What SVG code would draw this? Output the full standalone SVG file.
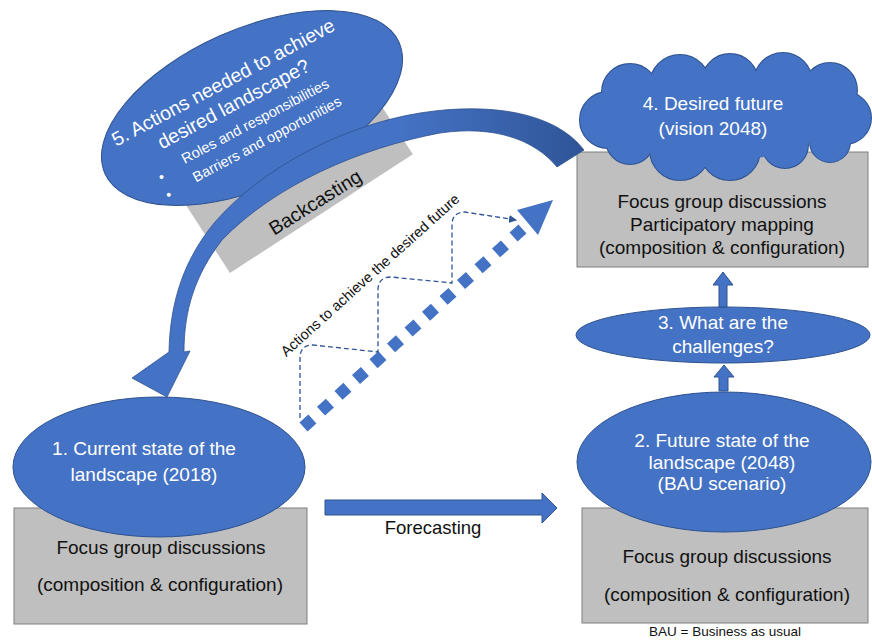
<svg xmlns="http://www.w3.org/2000/svg" width="872" height="640" viewBox="0 0 872 640">
<defs>
<style>
.t{font-family:"Liberation Sans",Arial,sans-serif;}
.w{fill:#ffffff;}
.k{fill:#111111;}
.ell{fill:#4472C4;stroke:#2F528F;stroke-width:1;}
.box{fill:#BFBFBF;stroke:#7F7F7F;stroke-width:1;}
.blue{fill:#4472C4;stroke:#2F528F;stroke-width:1;}
.m{text-anchor:middle;}
</style>
<linearGradient id="bg" x1="0" y1="0" x2="1" y2="0">
<stop offset="0" stop-color="#4472C4"/>
<stop offset="0.6" stop-color="#4472C4"/>
<stop offset="1" stop-color="#2F5597"/>
</linearGradient>
<marker id="ah" markerWidth="8" markerHeight="8" refX="7" refY="4" orient="auto" markerUnits="userSpaceOnUse">
<path d="M0,0 L8,4 L0,8 Z" fill="#2F5597"/>
</marker>
</defs>
<rect width="872" height="640" fill="#ffffff"/>

<g id="node5">
<rect x="0" y="-81" width="218" height="81" fill="#BFBFBF" transform="translate(230,273) rotate(-33)"/>
<text class="t k m" font-size="19.5" transform="translate(315,202) rotate(-32)" x="0" y="7">Backcasting</text>
<ellipse class="ell" cx="252" cy="108" rx="161" ry="79" transform="rotate(-24 252 108)"/>
<g transform="translate(250,105) rotate(-28)" class="t w">
<text class="m" x="-13" y="-26" font-size="19.5">5. Actions needed to achieve</text>
<text class="m" x="-14" y="-2" font-size="19.5">desired landscape?</text>
<text class="m" x="-3" y="21.5" font-size="14.5">Roles and responsibilities</text>
<text class="m" x="-1" y="43" font-size="14.5">Barriers and opportunities</text>
<text class="m" x="-112" y="27" font-size="14.5">•</text>
<text class="m" x="-114" y="46" font-size="14.5">•</text>
</g>
</g>

<g id="node4">
<rect class="box" x="577" y="152" width="291" height="115"/>
<g stroke="#2F528F" stroke-width="2" fill="#2F528F">
<circle cx="608" cy="120" r="28"/><circle cx="630" cy="92" r="28"/><circle cx="680" cy="85" r="30"/>
<circle cx="730" cy="82" r="28"/><circle cx="783" cy="82" r="29"/><circle cx="830" cy="90" r="27"/>
<circle cx="845" cy="118" r="26"/><circle cx="830" cy="142" r="20"/><circle cx="785" cy="145" r="23"/>
<circle cx="730" cy="150" r="30"/><circle cx="680" cy="150" r="30"/><circle cx="630" cy="140" r="24"/>
</g>
<g fill="#4472C4">
<circle cx="608" cy="120" r="28"/><circle cx="630" cy="92" r="28"/><circle cx="680" cy="85" r="30"/>
<circle cx="730" cy="82" r="28"/><circle cx="783" cy="82" r="29"/><circle cx="830" cy="90" r="27"/>
<circle cx="845" cy="118" r="26"/><circle cx="830" cy="142" r="20"/><circle cx="785" cy="145" r="23"/>
<circle cx="730" cy="150" r="30"/><circle cx="680" cy="150" r="30"/><circle cx="630" cy="140" r="24"/>
<ellipse cx="725" cy="118" rx="105" ry="42"/>
</g>
<text class="t w m" x="713" y="110" font-size="19">4. Desired future</text>
<text class="t w m" x="713" y="135" font-size="19">(vision 2048)</text>
<text class="t k m" x="722" y="208" font-size="19">Focus group discussions</text>
<text class="t k m" x="722" y="231" font-size="19">Participatory mapping</text>
<text class="t k m" x="722" y="254" font-size="19">(composition &amp; configuration)</text>
</g>

<g id="node3">
<ellipse class="ell" cx="723" cy="335" rx="147" ry="28"/>
<text class="t w m" x="723" y="329" font-size="19">3. What are the</text>
<text class="t w m" x="723" y="353" font-size="19">challenges?</text>
</g>

<g id="node2">
<rect class="box" x="582" y="508" width="286" height="115"/>
<ellipse class="ell" cx="724" cy="462" rx="147" ry="70"/>
<text class="t w m" x="722" y="447" font-size="19">2. Future state of the</text>
<text class="t w m" x="722" y="469" font-size="19">landscape (2048)</text>
<text class="t w m" x="722" y="490" font-size="19">(BAU scenario)</text>
<text class="t k m" x="727" y="563" font-size="19">Focus group discussions</text>
<text class="t k m" x="727" y="601" font-size="19">(composition &amp; configuration)</text>
</g>

<g id="node1">
<rect class="box" x="14" y="508" width="293" height="116"/>
<ellipse class="ell" cx="159" cy="467" rx="146" ry="70"/>
<text class="t w m" x="144" y="455" font-size="19">1. Current state of the</text>
<text class="t w m" x="144" y="481" font-size="19">landscape (2018)</text>
<text class="t k m" x="161" y="554" font-size="19">Focus group discussions</text>
<text class="t k m" x="160" y="591" font-size="19">(composition &amp; configuration)</text>
</g>

<g id="connectors">
<path d="M584,150 C555,112 490,102 420,113 C340,126 260,170 215,222 C185,258 170,300 169,352 L132,378 L167,397 L190,351 L184,352 C184,310 195,275 222,240 C275,185 360,148 440,133 C495,125 535,140 557,167 Z" fill="url(#bg)" stroke="#2F528F" stroke-width="0.8"/>
<path d="M303.5,427 L522.5,229" stroke="#4472C4" stroke-width="12" stroke-dasharray="12 11.6" fill="none"/>
<polygon points="517,210 553,200 538,235" fill="#4472C4"/>
<path d="M300,418 L300,358 Q300,345 313,345 L378,352 L378,290 Q378,277 391,277 L452,283 L452,225 Q452,212 465,212 L516,220" fill="none" stroke="#2F5597" stroke-width="1.3" stroke-dasharray="5 3" marker-end="url(#ah)"/>
<text class="t k m" font-size="14.5" transform="translate(370,275) rotate(-42)" x="0" y="5">Actions to achieve the desired future</text>
<polygon class="blue" points="325,500 542,500 542,493 557,508 542,523 542,515 325,515"/>
<text class="t k m" x="433" y="534" font-size="18.5">Forecasting</text>
<polygon class="blue" points="719,307 719,285 713,285 723,272 733,285 727,285 727,307"/>
<polygon class="blue" points="719,391 719,377 714,377 724,365 734,377 728,377 728,391"/>
</g>

<text class="t k m" x="725" y="636" font-size="13.5">BAU = Business as usual</text>
</svg>
